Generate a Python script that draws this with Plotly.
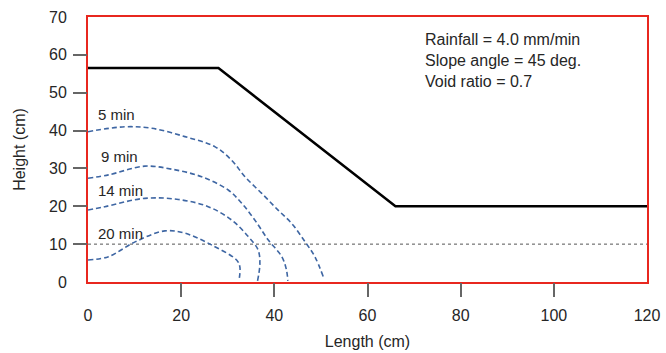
import plotly.graph_objects as go

# Slope profile
profile_x = [0, 28, 66, 120]
profile_y = [56.5, 56.5, 20, 20]

# Reference line
ref_x = [0, 120]
ref_y = [10, 10]

# Wetting front contours
c5_x = [0, 7.9, 13.7, 20.8, 27.3, 30.8, 33.7, 37.3, 40.8, 43.7, 46.6, 48.7, 50.5]
c5_y = [39.7, 41.0, 40.6, 38.4, 35.7, 32.2, 27.8, 23.4, 19.0, 15.5, 10.6, 6.7, 1.4]

c9_x = [0, 4.4, 12.2, 18.0, 24.4, 30.1, 33.0, 35.8, 38.7, 41.6, 42.6, 42.9]
c9_y = [27.4, 28.3, 30.6, 29.8, 27.8, 24.3, 20.8, 16.4, 11.1, 6.7, 3.2, 0.3]

c14_x = [0, 3.6, 12.2, 19.4, 25.8, 30.8, 34.4, 36.5, 36.9, 36.4]
c14_y = [19.0, 19.9, 22.1, 21.8, 19.9, 16.4, 12.0, 8.5, 4.9, 0.3]

c20_x = [0, 4.4, 10.1, 16.5, 20.8, 26.5, 31.9, 32.6, 32.4]
c20_y = [5.8, 6.7, 10.6, 13.5, 12.9, 9.8, 5.8, 4.0, 0.3]

labels = ["5 min", "9 min", "14 min", "20 min"]
label_x = [1.8, 2.3, 1.8, 1.8]
label_y = [44.3, 33.2, 24.3, 12.8]

x_ticks = [0, 20, 40, 60, 80, 100, 120]
y_ticks = [0, 10, 20, 30, 40, 50, 60, 70]
x_inner = [20, 40, 60, 80, 100]
y_inner = [10, 20, 30, 40, 50, 60]

info_lines = ["Rainfall = 4.0 mm/min", "Slope angle = 45 deg.", "Void ratio = 0.7"]

FONT = "Liberation Sans, Arial, sans-serif"
BLUE = "#3e66a3"
TXT = "#262626"

fig = go.Figure()

fig.add_trace(go.Scatter(x=ref_x, y=ref_y, mode="lines",
                         line=dict(color="#555555", width=1, dash="dot"),
                         showlegend=False, hoverinfo="skip"))

for cx, cy in [(c5_x, c5_y), (c9_x, c9_y), (c14_x, c14_y), (c20_x, c20_y)]:
    fig.add_trace(go.Scatter(x=cx, y=cy, mode="lines",
                             line=dict(color=BLUE, width=1.6, dash="5px,3px", shape="spline", smoothing=1.0),
                             showlegend=False, hoverinfo="skip"))

fig.add_trace(go.Scatter(x=profile_x, y=profile_y, mode="lines",
                         line=dict(color="black", width=2.5),
                         showlegend=False, hoverinfo="skip"))

for t, lx, ly in zip(labels, label_x, label_y):
    fig.add_annotation(x=lx, y=ly, text=t, showarrow=False, xanchor="left", yanchor="middle",
                       font=dict(family=FONT, size=15, color=TXT))

fig.add_annotation(x=72, y=66.8, xref="x", yref="y", text="<br>".join(info_lines),
                   showarrow=False, xanchor="left", yanchor="top", align="left",
                   font=dict(family=FONT, size=16, color=TXT))

fig.update_layout(
    width=666, height=353,
    margin=dict(l=88, r=19, t=17, b=71),
    plot_bgcolor="white", paper_bgcolor="white",
    font=dict(family=FONT, size=16, color=TXT),
    xaxis=dict(range=[0, 120], tickvals=x_ticks, ticks="outside", ticklen=18,
               tickcolor="rgba(0,0,0,0)", showgrid=False, zeroline=False,
               showline=True, linecolor="#e8271f", linewidth=2, mirror=True,
               automargin=False,
               title=dict(text="Length (cm)", standoff=13, font=dict(size=16)),
               tickfont=dict(size=16, color=TXT)),
    yaxis=dict(range=[0, 70], tickvals=y_ticks, ticks="outside", ticklen=16,
               tickcolor="rgba(0,0,0,0)", showgrid=False, zeroline=False,
               showline=True, linecolor="#e8271f", linewidth=2, mirror=True,
               automargin=False,
               title=dict(text="Height (cm)", standoff=19, font=dict(size=16)),
               tickfont=dict(size=16, color=TXT)),
    xaxis2=dict(range=[0, 120], overlaying="x", side="bottom", tickvals=x_inner,
                ticks="outside", ticklen=14, tickcolor="#666666", tickwidth=1.5,
                automargin=False,
                showticklabels=False, showgrid=False, zeroline=False, showline=False),
    yaxis2=dict(range=[0, 70], overlaying="y", side="left", tickvals=y_inner,
                ticks="outside", ticklen=14, tickcolor="#666666", tickwidth=1.5,
                automargin=False,
                showticklabels=False, showgrid=False, zeroline=False, showline=False),
)

fig.add_trace(go.Scatter(x=[None], y=[None], xaxis="x2", yaxis="y2",
                         showlegend=False, hoverinfo="skip"))

fig.write_html("out.html")
